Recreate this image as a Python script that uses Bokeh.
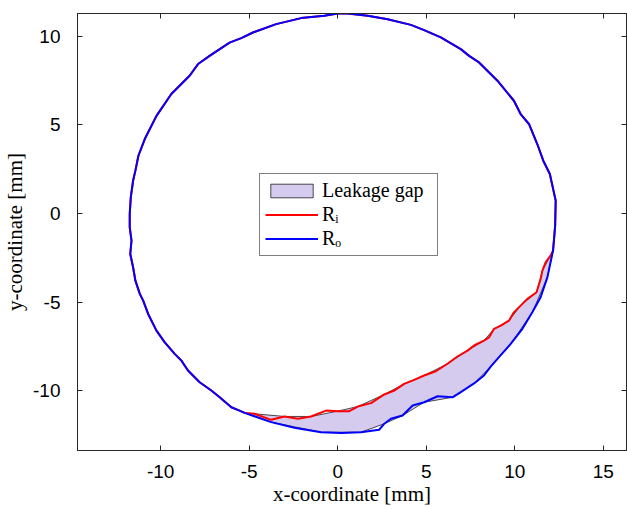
from bokeh.plotting import figure
from bokeh.models import Range1d, LinearAxis, Legend, LegendItem, FixedTicker
from bokeh.embed import file_html
from bokeh.resources import INLINE

# Common part of both contours: from the left junction, over the top, to the right junction [mm]
shared_x = [-5.26, -5.55, -6.01, -6.67, -7.14, -7.80, -8.46, -8.83, -9.21, -9.77,
            -10.24, -10.71, -10.99, -11.18, -11.43, -11.56, -11.72, -11.65, -11.75, -11.75,
            -11.69, -11.56, -11.43, -11.26, -10.90, -10.24, -9.40, -8.37, -7.89, -7.24,
            -6.11, -5.45, -4.79, -3.48, -2.07, -0.76, 0.00, 0.56, 1.69, 2.82,
            4.13, 4.88, 5.82, 6.95, 7.42, 7.98, 9.02, 9.95, 10.33, 10.80,
            11.27, 11.61, 11.98, 12.31, 12.28, 12.21, 12.16]
shared_y = [-11.25, -11.12, -10.93, -10.37, -9.99, -9.52, -8.86, -8.30, -7.92, -7.27,
            -6.61, -5.67, -4.92, -4.54, -3.79, -3.04, -2.29, -1.54, -0.79, -0.03,
            0.90, 1.84, 2.41, 3.25, 4.19, 5.50, 6.73, 7.76, 8.42, 8.88,
            9.63, 9.88, 10.20, 10.67, 11.01, 11.14, 11.27, 11.27, 11.14, 10.95,
            10.63, 10.33, 9.92, 9.26, 8.88, 8.51, 7.48, 6.35, 5.60, 5.04,
            3.91, 2.97, 2.22, 0.72, -0.69, -1.54, -2.10]

# Outer contour R_o along the gap (right junction -> left junction)
ro_gap_x = [11.84, 11.46, 10.99, 10.43, 9.77, 9.02, 8.64, 8.26, 7.70, 6.95,
            6.48, 5.64, 4.88, 4.23, 3.66, 3.00, 2.63, 2.34, 1.31, 0.19,
            -0.94, -2.45, -3.76]
ro_gap_y = [-3.61, -4.73, -5.58, -6.51, -7.36, -8.20, -8.64, -9.14, -9.59, -10.08,
            -10.37, -10.31, -10.65, -10.83, -11.40, -11.58, -11.86, -12.20, -12.34, -12.39,
            -12.34, -12.09, -11.77]

# Inner contour R_i along the gap (right junction -> left junction)
ri_gap_x = [12.02, 11.74, 11.56, 11.46, 11.23, 10.71, 10.33, 9.95, 9.67, 9.21,
            8.83, 8.55, 8.26, 7.70, 7.33, 6.76, 6.20, 5.54, 4.88, 4.32,
            3.75, 3.19, 2.63, 1.88, 1.13, 0.65, 0.00, -0.66, -1.51, -2.25,
            -3.01, -3.76, -4.70]
ri_gap_y = [-2.38, -2.76, -3.23, -3.70, -4.45, -4.82, -5.20, -5.58, -6.05, -6.33,
            -6.51, -6.99, -7.17, -7.45, -7.74, -8.07, -8.48, -8.90, -9.14, -9.39,
            -9.61, -9.99, -10.21, -10.70, -10.89, -11.15, -11.15, -11.12, -11.45, -11.58,
            -11.45, -11.64, -11.30]

x_ticks = [-10, -5, 0, 5, 10, 15]
y_ticks = [-10, -5, 0, 5, 10]

# Closed contours
ro_x = shared_x + ro_gap_x + [shared_x[0]]
ro_y = shared_y + ro_gap_y + [shared_y[0]]
ri_x = shared_x + ri_gap_x + [shared_x[0]]
ri_y = shared_y + ri_gap_y + [shared_y[0]]

# Leakage gap polygon: inner edge out, outer edge back (coarser sampling)
j0, j1 = shared_x[-1], shared_y[-1]
k0, k1 = shared_x[0], shared_y[0]
gap_x = [j0] + ri_gap_x[::2] + [k0] + ro_gap_x[::-2] + [j0]
gap_y = [j1] + ri_gap_y[::2] + [k1] + ro_gap_y[::-2] + [j1]

AX = "#262626"
p = figure(width=627, height=509,
           x_range=Range1d(-14.70, 16.31), y_range=Range1d(-13.37, 11.27),
           output_backend="svg", toolbar_location=None,
           min_border_left=76, min_border_right=1, min_border_top=13, min_border_bottom=59)
p.background_fill_color = "white"
p.border_fill_color = "white"
p.outline_line_color = AX
p.xgrid.grid_line_color = None
p.ygrid.grid_line_color = None

for ax, ticks in ((p.xaxis[0], x_ticks), (p.yaxis[0], y_ticks)):
    ax.ticker = FixedTicker(ticks=ticks, minor_ticks=[])
    ax.major_label_overrides = {t: str(t) for t in ticks}
    ax.major_tick_in = 5
    ax.major_tick_out = 0
    ax.minor_tick_in = 0
    ax.minor_tick_out = 0
    ax.axis_line_color = AX
    ax.major_tick_line_color = AX
    ax.major_label_text_font = "Liberation Sans"
    ax.major_label_text_font_size = "19px"
    ax.major_label_text_color = "black"
    ax.axis_label_text_font = "Liberation Serif"
    ax.axis_label_text_font_size = "21px"
    ax.axis_label_text_font_style = "normal"
    ax.axis_label_text_color = "black"

p.xaxis[0].axis_label = "x-coordinate [mm]"
p.yaxis[0].axis_label = "y-coordinate [mm]"
p.xaxis[0].major_label_standoff = 14
p.yaxis[0].major_label_standoff = 17
p.xaxis[0].axis_label_standoff = 1
p.yaxis[0].axis_label_standoff = 3

# Mirror ticks on the top and right edges of the box (no labels)
for loc, ticks in (("above", x_ticks), ("right", y_ticks)):
    a = LinearAxis(ticker=FixedTicker(ticks=ticks, minor_ticks=[]))
    a.major_tick_in = 5
    a.major_tick_out = 0
    a.minor_tick_in = 0
    a.minor_tick_out = 0
    a.major_label_text_font_size = "0px"
    a.major_label_text_color = None
    a.major_label_standoff = 0
    a.axis_line_color = AX
    a.major_tick_line_color = AX
    p.add_layout(a, loc)

gap_r = p.patch(gap_x, gap_y, fill_color="#d5cbef", line_color="black", line_width=0.7)
ri_r = p.line(ri_x, ri_y, line_color="#ff0000", line_width=2)
ro_r = p.line(ro_x, ro_y, line_color="#0000ff", line_width=2)

legend = Legend(items=[LegendItem(label="Leakage gap", renderers=[gap_r]),
                       LegendItem(label="R\u1d62", renderers=[ri_r]),
                       LegendItem(label="R\u2092", renderers=[ro_r])],
                location=(182, 194))
legend.label_text_font = "Liberation Serif"
legend.label_text_font_size = "20px"
legend.label_text_color = "black"
legend.glyph_width = 53
legend.glyph_height = 17
legend.label_height = 17
legend.label_width = 110
legend.label_standoff = 4
legend.spacing = 1
legend.padding = 5
legend.margin = 0
legend.border_line_color = "black"
legend.border_line_width = 1
legend.background_fill_color = "white"
legend.background_fill_alpha = 1
p.add_layout(legend)

open("out.html", "w").write(file_html(p, INLINE))
